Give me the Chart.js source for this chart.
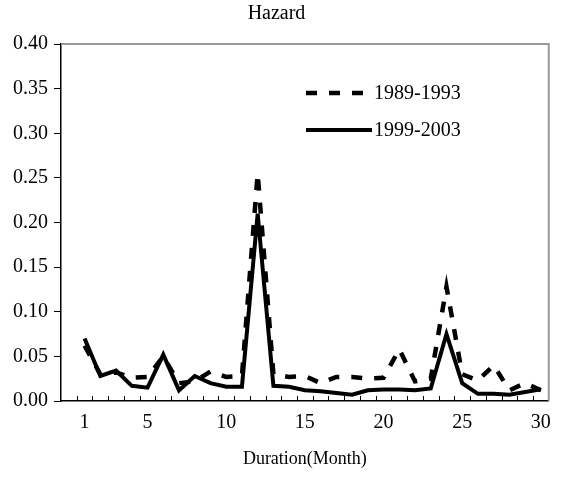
<!DOCTYPE html>
<html lang="en">
  <head>
    <meta charset="UTF-8" />
    <title>Hazard</title>
    <style>
      body {
        margin: 0;
        background: #fff;
      }
      .wrap {
        width: 561px;
        height: 478px;
      }
    </style>
  </head>
  <body>
    <div class="wrap">
      <canvas id="myChart" width="561" height="478"></canvas>
    </div>
    <script src="https://cdn.jsdelivr.net/npm/chart.js"></script>
    <script>
      // months 1..30
      const months = [
        1, 2, 3, 4, 5, 6, 7, 8, 9, 10, 11, 12, 13, 14, 15, 16, 17, 18, 19, 20,
        21, 22, 23, 24, 25, 26, 27, 28, 29, 30,
      ];
      const hazard8993 = [
        0.062, 0.03, 0.032, 0.026, 0.027, 0.05, 0.02, 0.022, 0.033, 0.027,
        0.028, 0.255, 0.03, 0.027, 0.028, 0.02, 0.027, 0.027, 0.025, 0.026,
        0.058, 0.022, 0.025, 0.128, 0.03, 0.023, 0.04, 0.012, 0.02, 0.012,
      ];
      const hazard9903 = [
        0.07, 0.028, 0.034, 0.017, 0.015, 0.052, 0.012, 0.028, 0.02, 0.016,
        0.016, 0.21, 0.017, 0.016, 0.012, 0.011, 0.009, 0.007, 0.012, 0.013,
        0.013, 0.012, 0.014, 0.075, 0.02, 0.008, 0.008, 0.007, 0.01, 0.013,
      ];
      const xTickLabels = [1, 5, 10, 15, 20, 25, 30];
      const yTicks = [0, 0.05, 0.1, 0.15, 0.2, 0.25, 0.3, 0.35, 0.4];

      const serif = "'Liberation Serif', 'Times New Roman', serif";

      const toPoints = (vals) => vals.map((v, i) => ({ x: months[i], y: v }));

      // grey frame on top/right, inner tick marks on x axis
      const frame = {
        id: "frame",
        beforeDatasetsDraw(chart) {
          const { ctx, chartArea: a, scales } = chart;
          ctx.save();
          ctx.strokeStyle = "#999";
          ctx.lineWidth = 2;
          ctx.beginPath();
          ctx.moveTo(a.left, a.top);
          ctx.lineTo(a.right, a.top);
          ctx.lineTo(a.right, a.bottom);
          ctx.stroke();
          // x ticks between months, pointing up
          ctx.strokeStyle = "#000";
          ctx.lineWidth = 1;
          ctx.beginPath();
          for (let k = 0; k < months.length; k++) {
            const px = Math.round(scales.x.getPixelForValue(months[k] - 0.5)) + 0.5;
            ctx.moveTo(px, a.bottom);
            ctx.lineTo(px, a.bottom - 5);
          }
          ctx.stroke();
          ctx.restore();
        },
      };

      // legend inside the plot
      const insideLegend = {
        id: "insideLegend",
        afterDraw(chart) {
          const { ctx, chartArea: a } = chart;
          ctx.save();
          ctx.font = "20px " + serif;
          ctx.fillStyle = "#000";
          ctx.textBaseline = "middle";
          chart.data.datasets.forEach((ds, i) => {
            const y = a.top + 49 + i * 37;
            const x0 = a.left + 245;
            ctx.strokeStyle = ds.borderColor;
            ctx.lineWidth = ds.borderWidth;
            ctx.setLineDash(ds.borderDash || []);
            ctx.beginPath();
            ctx.moveTo(x0, y);
            ctx.lineTo(x0 + 66, y);
            ctx.stroke();
            ctx.setLineDash([]);
            ctx.fillText(ds.label, x0 + 68, y + 1);
          });
          ctx.restore();
        },
      };

      const myChart = new Chart(document.getElementById("myChart"), {
        type: "line",
        data: {
          datasets: [
            {
              label: "1989-1993",
              data: toPoints(hazard8993),
              borderColor: "#000",
              borderWidth: 4.5,
              borderDash: [11, 12],
              pointRadius: 0,
              tension: 0,
            },
            {
              label: "1999-2003",
              data: toPoints(hazard9903),
              borderColor: "#000",
              borderWidth: 4,
              pointRadius: 0,
              tension: 0,
            },
          ],
        },
        options: {
          responsive: false,
          animation: false,
          layout: { padding: { left: 0, right: 8, top: 0, bottom: 0 } },
          plugins: {
            legend: { display: false },
            tooltip: { enabled: false },
            title: {
              display: true,
              text: "Hazard",
              color: "#000",
              font: { family: serif, size: 20, weight: "normal" },
              padding: { top: 2, bottom: 18 },
            },
          },
          scales: {
            x: {
              type: "linear",
              min: -0.5,
              max: 30.5,
              afterBuildTicks: (s) => {
                s.ticks = xTickLabels.map((v) => ({ value: v }));
              },
              afterFit: (s) => {
                s.height = 77;
              },
              grid: { drawOnChartArea: false, drawTicks: false },
              border: { color: "#000", width: 1.5 },
              ticks: {
                color: "#000",
                padding: 10,
                maxRotation: 0,
                font: { family: serif, size: 20 },
              },
              title: {
                display: true,
                text: "Duration(Month)",
                color: "#000",
                font: { family: serif, size: 18 },
                padding: { top: 8, bottom: 8 },
              },
            },
            y: {
              min: 0,
              max: 0.4,
              afterBuildTicks: (s) => {
                s.ticks = yTicks.map((v) => ({ value: v }));
              },
              afterFit: (s) => {
                s.width = 61;
              },
              grid: {
                drawOnChartArea: false,
                drawTicks: true,
                tickLength: 7,
                color: "#000",
              },
              border: { color: "#000", width: 1.5 },
              ticks: {
                color: "#000",
                padding: 6,
                font: { family: serif, size: 20 },
                callback: (v) => v.toFixed(2),
              },
            },
          },
        },
        plugins: [frame, insideLegend],
      });
    </script>
  </body>
</html>
